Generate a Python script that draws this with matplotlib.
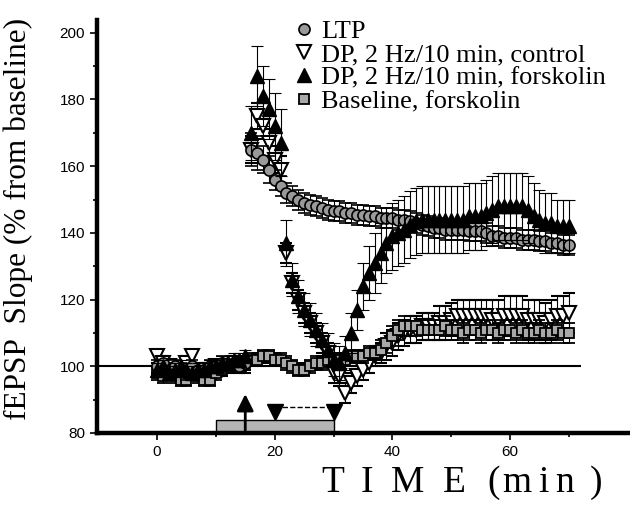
import numpy as np
import matplotlib
matplotlib.use("Agg")
import matplotlib.pyplot as plt
from matplotlib.lines import Line2D
from matplotlib.patches import Rectangle
from matplotlib.ticker import FixedLocator

# time points (min)
time_min = np.arange(0, 71)

ltp = [100, 101, 99, 100, 99, 98, 100, 99, 99, 100, 100, 101, 100, 101, 100, 101,
       165, 164, 162, 159, 156, 154, 152, 151, 150, 149, 148.5, 148, 147.5, 147, 146.5,
       146.5, 146, 146, 145.5, 145.5, 145, 145, 144.5, 144.5, 144.5, 144, 144, 143.5, 143,
       142.5, 142, 141.5, 141.5, 141, 141, 141, 141, 140.5, 140.5, 140.5, 140, 139, 139,
       138.5, 138.5, 138.5, 138, 138, 138, 137.5, 137.5, 137, 137, 136.5, 136.5]
ltp_err = [2] * 16 + [5, 5, 4, 4, 3] + [3] * 50

dp_control = [103, 101, 100, 99, 98, 101, 103, 99, 98, 99, 100, 99, 100, 101, 100, 100,
              165, 175, 172, 167, 162, 159, 134, 125, 120, 116, 113, 110, 107, 104, 98,
              97, 92, 95, 97, 99, 101, 103, 104, 106, 107, 109, 110, 111, 111, 112, 112,
              112, 113, 113, 114, 115, 115, 115, 115, 115, 115, 114, 114, 115, 115, 115,
              115, 114, 114, 114, 113, 114, 115, 115, 116]
dp_control_err = ([2] * 16 + [4, 4, 4, 4, 4, 4] + [3] * 17 + [4] * 9
                  + [5] * 9 + [6] * 14)

dp_forsk = [99, 100, 98, 99, 100, 99, 98, 99, 99, 100, 100, 101, 101, 102, 102, 103,
            170, 187, 181, 177, 172, 167, 137, 126, 121, 117, 114, 111, 108, 105, 102,
            101, 104, 110, 117, 124, 128, 131, 134, 137, 139, 140, 141, 142.5, 143.5, 144,
            144, 144, 144, 144, 144, 144, 144, 145, 145, 145, 146, 147, 148, 148, 148,
            148, 148, 147, 145, 144, 143, 143, 142, 142, 142]
dp_forsk_err = ([2] * 16 + [8, 9, 9, 9, 10, 10, 7] + [5] * 10
                + [6, 6, 7, 8, 9, 9, 9] + [10] * 25 + [9, 9, 9, 8, 8, 8])

base_forsk = [98, 97, 99, 97, 96, 96, 98, 97, 96, 96, 98, 99, 100, 100, 101, 101,
              102, 102, 103, 103, 102, 102, 101, 100, 99, 99, 100, 101, 101, 102, 102,
              102, 102, 103, 103, 103, 104, 104, 105, 107, 109, 111, 112, 112, 112, 111,
              111, 111, 111, 112, 111, 111, 110, 111, 111, 110, 111, 111, 110, 111, 111,
              110, 111, 110, 110, 111, 110, 110, 111, 110, 110]
base_forsk_err = [2] * 38 + [3] * 33

# protocol marks
forsk_on, forsk_off = 10, 30
tetanus_t = 15
dp_on, dp_off = 20, 30

plt.rcParams['font.family'] = ['Liberation Sans', 'DejaVu Sans']

fig = plt.figure(figsize=(6.3, 5.07), dpi=100)
ax = fig.add_axes([0.154, 0.146, 0.846, 0.815])

common = dict(ecolor='black', elinewidth=0.8, capsize=4, capthick=0.8, linestyle='none')
ax.errorbar(time_min, dp_control, yerr=dp_control_err, marker='v', ms=10,
            mfc='white', mec='black', mew=1.5, zorder=3, **common)
ax.errorbar(time_min, base_forsk, yerr=base_forsk_err, marker='s', ms=7,
            mfc='#a8a8a8', mec='black', mew=1.3, zorder=4, **common)
ax.errorbar(time_min, ltp, yerr=ltp_err, marker='o', ms=8,
            mfc='#9a9a9a', mec='black', mew=1.2, zorder=5, **common)
ax.errorbar(time_min, dp_forsk, yerr=dp_forsk_err, marker='^', ms=10,
            mfc='black', mec='black', zorder=6, **common)

ax.hlines(100, -10.2, 72, color='black', lw=1.5, zorder=2)

# forskolin bar, tetanus arrow, DP window
ax.add_patch(Rectangle((forsk_on, 80), forsk_off - forsk_on, 4, facecolor='#b5b5b5',
                       edgecolor='black', lw=1, zorder=2))
ax.annotate('', xy=(tetanus_t, 92.5), xytext=(tetanus_t, 80),
            arrowprops=dict(arrowstyle='-|>', lw=2, color='black', mutation_scale=25))
ax.plot([dp_on, dp_off], [87.8, 87.8], color='black', ls='--', lw=1)
ax.plot([dp_on, dp_off], [86.3, 86.3], 'v', color='black', ms=12, ls='none')

ax.set_xlim(-10.2, 80.4)
ax.set_ylim(80, 203.9)
ax.spines['top'].set_visible(False)
ax.spines['right'].set_visible(False)
ax.spines['left'].set_linewidth(3.2)
ax.spines['bottom'].set_linewidth(3.2)
ax.xaxis.set_major_locator(FixedLocator([0, 20, 40, 60]))
ax.xaxis.set_minor_locator(FixedLocator([10, 30, 50, 70]))
ax.yaxis.set_major_locator(FixedLocator([80, 100, 120, 140, 160, 180, 200]))
ax.yaxis.set_minor_locator(FixedLocator([90, 110, 130, 150, 170, 190]))
ax.tick_params(which='major', direction='out', length=5, width=1.2, labelsize=11)
ax.tick_params(which='minor', direction='out', length=3, width=1.2)

serif = ['Liberation Serif', 'DejaVu Serif']
fig.text(0.029, 0.568, 'fEPSP  Slope (% from baseline)', rotation=90, ha='center',
         va='center', fontsize=22.5, family=serif)

# spaced-out axis title, one glyph at a time
title_chars = 'TIME(min)'
title_px = [333, 367, 408, 454, 494, 517, 543, 565, 596]
for ch, px in zip(title_chars, title_px):
    fig.text(px / 630, 0.0296, ch, ha='center', va='baseline', fontsize=27, family=serif)

handles = [
    Line2D([], [], marker='o', ls='none', ms=8, mfc='#9a9a9a', mec='black', mew=1.2),
    Line2D([], [], marker='v', ls='none', ms=10, mfc='white', mec='black', mew=1.5),
    Line2D([], [], marker='^', ls='none', ms=10, mfc='black', mec='black'),
    Line2D([], [], marker='s', ls='none', ms=7, mfc='#a8a8a8', mec='black', mew=1.3),
]
labels = ['LTP', 'DP, 2 Hz/10 min, control', 'DP, 2 Hz/10 min, forskolin',
          'Baseline, forskolin']
ax.legend(handles, labels, loc='upper left', bbox_to_anchor=(0.468, 0.962),
          bbox_transform=fig.transFigure, frameon=False, handlelength=0.7,
          handletextpad=0.3, labelspacing=0.0, borderpad=0, borderaxespad=0,
          prop={'family': serif, 'size': 19})

fig.savefig('out.png', dpi=100)
